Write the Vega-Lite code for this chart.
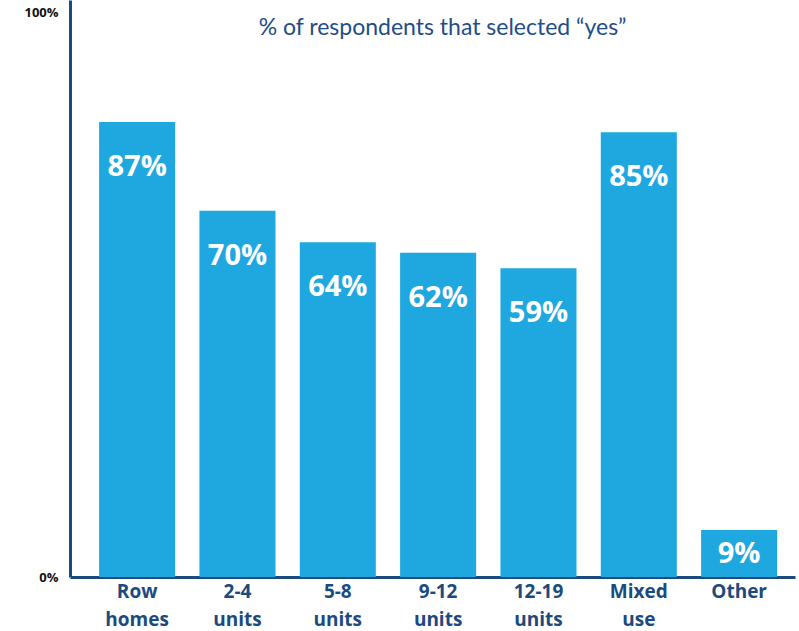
{
  "$schema": "https://vega.github.io/schema/vega-lite/v6.json",
  "width": 725,
  "height": 577,
  "autosize": "none",
  "padding": {"left": 70, "top": 0, "right": 4, "bottom": 54},
  "background": "white",
  "title": {
    "text": "% of respondents that selected “yes”",
    "anchor": "middle",
    "frame": "group",
    "offset": -58,
    "baseline": "alphabetic",
    "dx": 10,
    "font": "Lato",
    "fontSize": 23,
    "fontWeight": "normal",
    "color": "#1d4e89"
  },
  "data": {
    "values": [
      {"type": "Row homes", "pct": 0.87, "label": "87%"},
      {"type": "2-4 units", "pct": 0.70, "label": "70%"},
      {"type": "5-8 units", "pct": 0.64, "label": "64%"},
      {"type": "9-12 units", "pct": 0.62, "label": "62%"},
      {"type": "12-19 units", "pct": 0.59, "label": "59%"},
      {"type": "Mixed use", "pct": 0.85, "label": "85%"},
      {"type": "Other", "pct": 0.09, "label": "9%"}
    ]
  },
  "encoding": {
    "x": {
      "field": "type",
      "type": "nominal",
      "sort": null,
      "scale": {"paddingInner": 0.242, "paddingOuter": 0.234, "align": 0.62},
      "axis": {
        "title": null,
        "labelAngle": 0,
        "labelExpr": "split(datum.label, ' ')",
        "labelFont": "Open Sans",
        "labelFontWeight": "bold",
        "labelFontSize": 19,
        "labelColor": "#1b4a7e",
        "labelLineHeight": 28,
        "labelPadding": 5,
        "labelBaseline": "top",
        "ticks": false,
        "domainColor": "#1b4a7e",
        "domainWidth": 3,
        "grid": false
      }
    },
    "y": {
      "field": "pct",
      "type": "quantitative",
      "scale": {"domain": [0, 1.103], "nice": false, "zero": true},
      "axis": {
        "title": null,
        "values": [0, 1.08],
        "labelExpr": "datum.value == 0 ? '0%' : '100%'",
        "labelFont": "Open Sans",
        "labelFontWeight": "bold",
        "labelFontSize": 13,
        "labelColor": "#111111",
        "labelPadding": 12,
        "ticks": false,
        "grid": false,
        "domainColor": "#1b4a7e",
        "domainWidth": 3
      }
    }
  },
  "layer": [
    {"mark": {"type": "bar", "color": "#1fa8e0"}},
    {
      "transform": [{"filter": "datum.pct >= 0.2"}],
      "mark": {
        "type": "text",
        "color": "white",
        "font": "Open Sans",
        "fontWeight": "bold",
        "fontSize": 29,
        "baseline": "middle",
        "dy": 45
      },
      "encoding": {"text": {"field": "label"}}
    },
    {
      "transform": [{"filter": "datum.pct < 0.2"}],
      "mark": {
        "type": "text",
        "color": "white",
        "font": "Open Sans",
        "fontWeight": "bold",
        "fontSize": 29,
        "baseline": "middle",
        "dy": 24
      },
      "encoding": {"text": {"field": "label"}}
    }
  ],
  "config": {"view": {"stroke": null}}
}
